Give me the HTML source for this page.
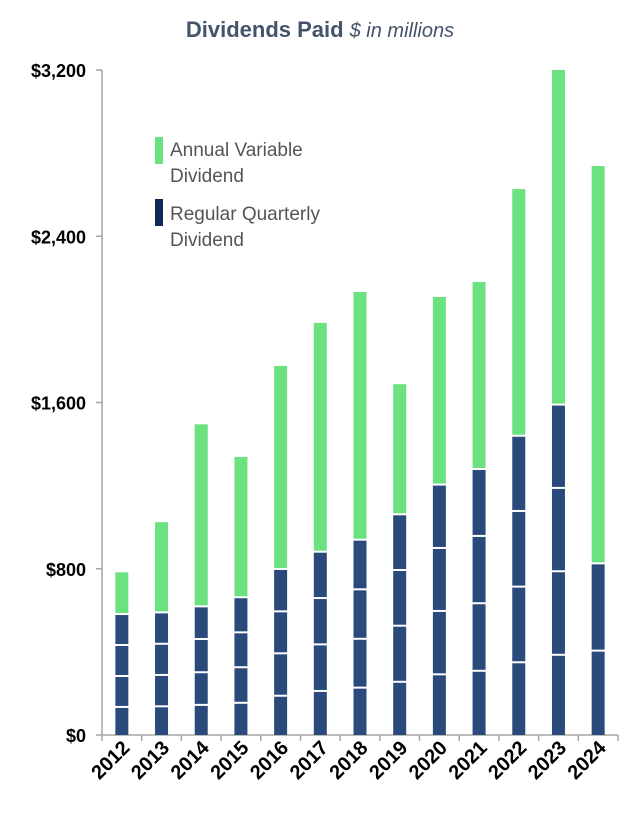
<!DOCTYPE html>
<html><head><meta charset="utf-8"><style>
html,body{margin:0;padding:0;background:#fff;}
svg{display:block;font-family:"Liberation Sans",Arial,sans-serif;}
</style></head><body>
<svg id="chart" width="640" height="816" viewBox="0 0 640 816" xmlns="http://www.w3.org/2000/svg">
<text x="320" y="37" text-anchor="middle" fill="#44546a" font-size="22"><tspan font-weight="bold">Dividends Paid</tspan><tspan font-style="italic" font-size="20" dx="6">$ in millions</tspan></text>
<g id="legend">
<rect x="155" y="137" width="8" height="27" fill="#6be27f"/>
<text x="170" y="156" font-size="19" fill="#555">Annual Variable</text>
<text x="170" y="182" font-size="19" fill="#555">Dividend</text>
<rect x="155" y="199" width="8" height="27" fill="#0d2b55"/>
<text x="170" y="220" font-size="19" fill="#555">Regular Quarterly</text>
<text x="170" y="246" font-size="19" fill="#555">Dividend</text>
</g>
<g id="axes"></g>
<g id="bars"></g>
</svg>
<script>
const years = ["2012","2013","2014","2015","2016","2017","2018","2019","2020","2021","2022","2023","2024"];
const q1 = [135,138,145,155,189,212,228,256,292,309,350,386,406];
const q2 = [149,151,157,171,204,224,235,270,305,325,364,402,420];
const q3 = [149,150,160,168,202,223,238,268,303,324,364,401,0];
const q4 = [149,151,157,169,204,223,239,268,305,322,362,401,0];
const variable = [201,434,876,675,977,1101,1192,626,903,900,1187,1610,1912];
const yTicks = [0,800,1600,2400,3200];
const yTickLabels = ["$0","$800","$1,600","$2,400","$3,200"];

const NS="http://www.w3.org/2000/svg";
const x0=102, x1=618, y0=735, yTop=70, yMax=3200;
const band=(x1-x0)/years.length, bw=13;
function yScale(v){return y0-(v/yMax)*(y0-yTop);}
function xCenter(i){return x0+band*(i+0.5);}
function mk(tag,attrs,parent){const e=document.createElementNS(NS,tag);for(const k in attrs)e.setAttribute(k,attrs[k]);parent.appendChild(e);return e;}
const axes=document.getElementById('axes'), bars=document.getElementById('bars');

let yl=mk('line',{x1:x0,y1:yTop,x2:x0,y2:y0,stroke:'#a6a6a6','stroke-width':1.5},axes);


yTicks.forEach((t,i)=>{
  const y=yScale(t);
  const tk=mk('line',{x1:x0-6,y1:y,x2:x0,y2:y,stroke:'#a6a6a6','stroke-width':1.5},axes);
  
  
  const tx=mk('text',{x:86,y:y+7,'text-anchor':'end','font-size':18,'font-weight':'bold',fill:'#000'},axes);
  tx.textContent=yTickLabels[i];
  
  
});
let xl=mk('line',{x1:x0,y1:y0,x2:x1,y2:y0,stroke:'#a6a6a6','stroke-width':1.5},axes);


for(let i=0;i<=years.length;i++){
  const x=x0+band*i;
  const tk=mk('line',{x1:x,y1:y0,x2:x,y2:y0+6,stroke:'#a6a6a6','stroke-width':1.5},axes);
  
  
}
years.forEach((yr,i)=>{
  const cx=xCenter(i)+9, cy=749;
  const tx=mk('text',{x:cx,y:cy,'text-anchor':'end','font-size':20,'font-weight':'bold',fill:'#000',transform:`rotate(-45 ${cx} ${cy})`},axes);
  tx.textContent=yr;
  
  
});

years.forEach((yr,i)=>{
  const x=xCenter(i)-bw/2;
  const segs=[q1[i],q2[i],q3[i],q4[i]];
  let cum=0;
  segs.forEach((v,k)=>{
    if(v<=0)return;
    const yb=yScale(cum), yt=yScale(cum+v);
    const r=mk('rect',{x:x,y:yt+1,width:bw,height:Math.max(0,yb-yt-(k===0?1:2)),fill:'#2a4a7c'},bars);
    
    
    cum+=v;
  });
  const yb=yScale(cum), yt=yScale(cum+variable[i]);
  const g=mk('rect',{x:x,y:yt,width:bw,height:Math.max(0,yb-yt-1),fill:'#6be27f'},bars);
  
  
});
</script>
</body></html>
